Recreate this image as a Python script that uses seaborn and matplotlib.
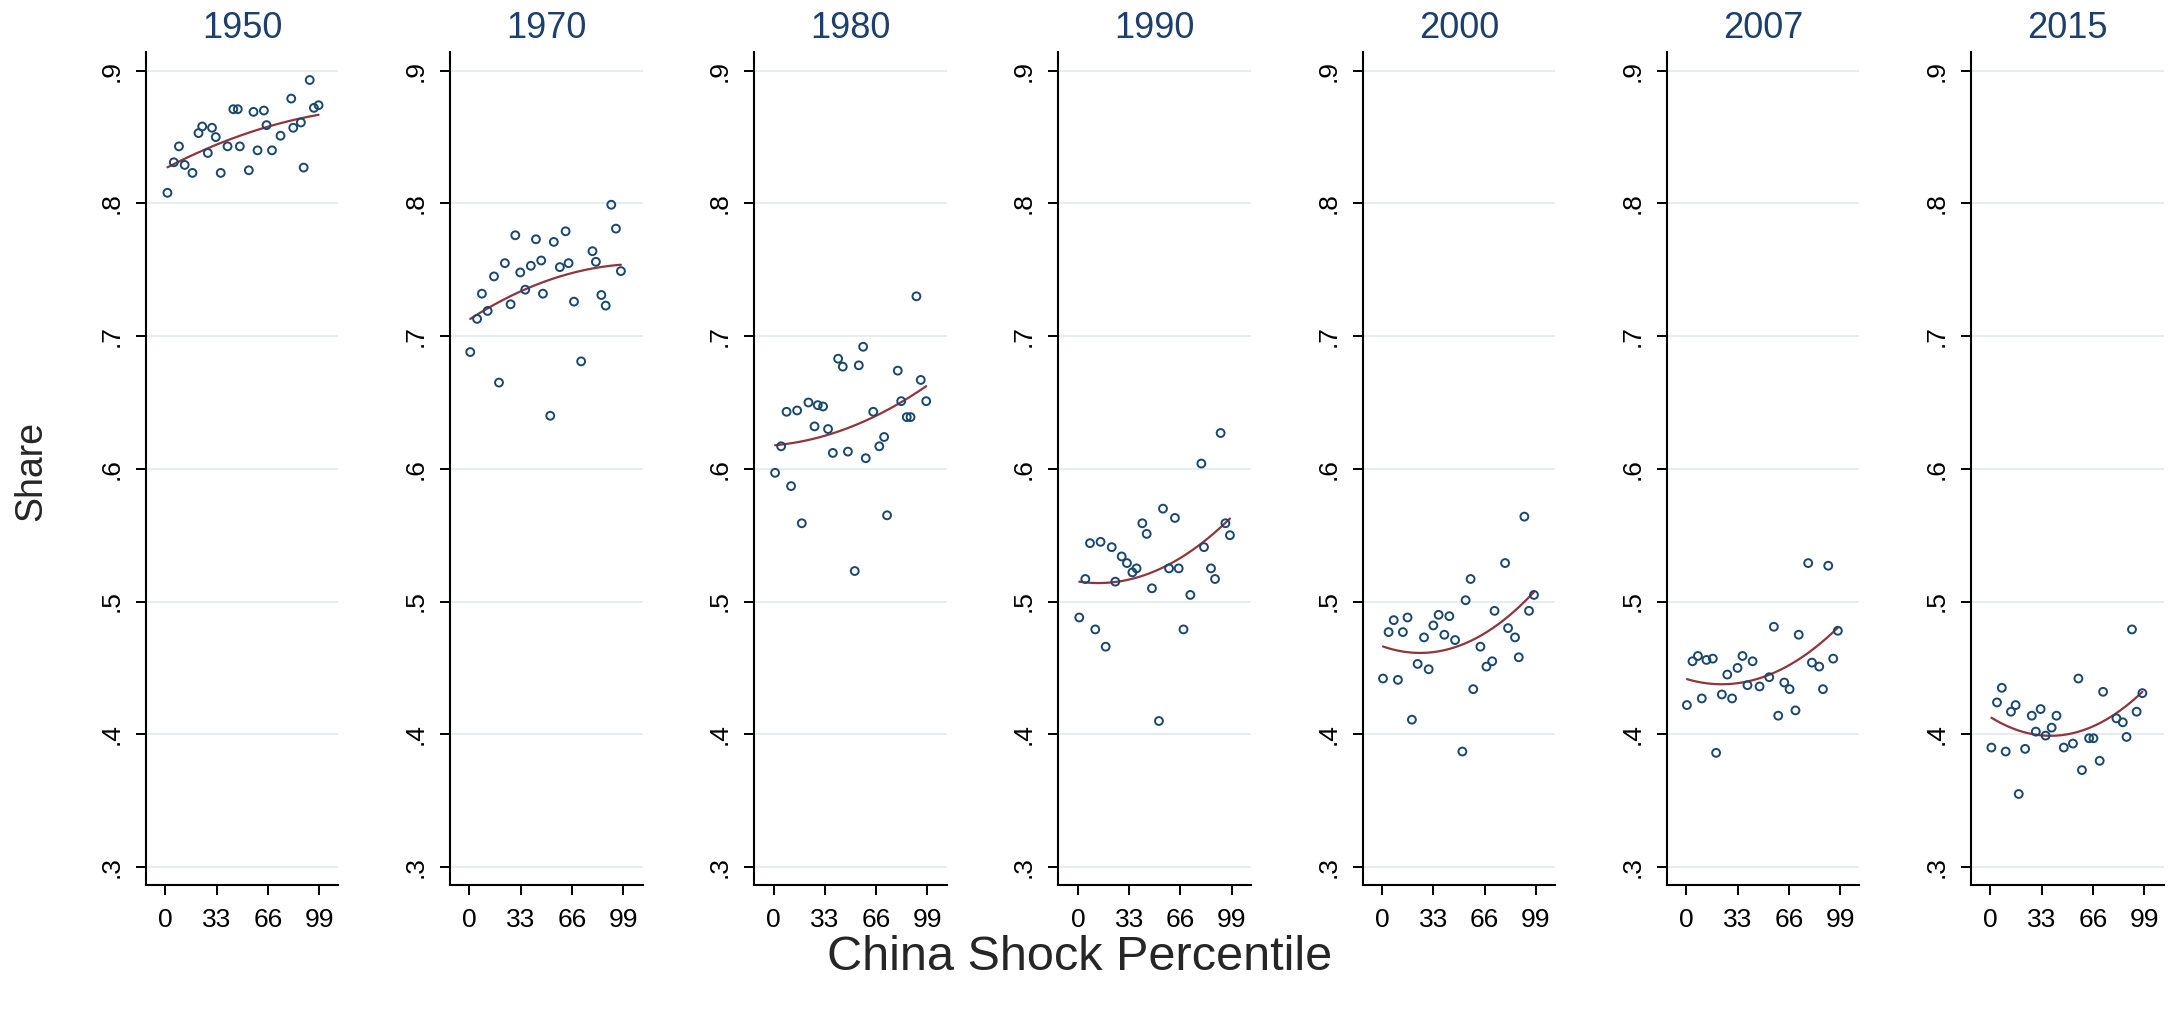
import numpy as np
import pandas as pd
import matplotlib
matplotlib.use("Agg")
import matplotlib.pyplot as plt
import seaborn as sns

# Panel years
years = ["1950", "1970", "1980", "1990", "2000", "2007", "2015"]

# Binned scatter points (percentile, share)
pct_1950 = [1.4, 5.5, 8.8, 12.5, 17.5, 21.4, 23.8, 27.4, 30.1, 32.5, 35.7, 40.1, 43.8, 46.7, 48.0,
            53.8, 56.8, 59.4, 63.5, 65.2, 68.7, 74.2, 81.1, 82.4, 87.3, 89.1, 93.0, 95.7, 98.7]
share_1950 = [0.808, 0.831, 0.843, 0.829, 0.823, 0.853, 0.858, 0.838, 0.857, 0.850, 0.823, 0.843, 0.871, 0.871, 0.843,
              0.825, 0.869, 0.840, 0.870, 0.859, 0.840, 0.851, 0.879, 0.857, 0.861, 0.827, 0.893, 0.872, 0.874]

pct_1970 = [0.5, 4.9, 8.0, 11.7, 15.8, 19.0, 22.8, 26.5, 29.5, 32.7, 35.9, 39.5, 42.8, 46.2, 47.3,
            52.0, 54.3, 58.2, 61.9, 63.8, 67.3, 71.9, 79.2, 81.4, 84.9, 87.7, 91.3, 94.3, 97.5]
share_1970 = [0.688, 0.713, 0.732, 0.719, 0.745, 0.665, 0.755, 0.724, 0.776, 0.748, 0.735, 0.753, 0.773, 0.757, 0.732,
              0.640, 0.771, 0.752, 0.779, 0.755, 0.726, 0.681, 0.764, 0.756, 0.731, 0.723, 0.799, 0.781, 0.749]

pct_1980 = [0.9, 4.8, 8.3, 11.2, 15.1, 18.1, 22.4, 26.3, 28.4, 31.8, 35.0, 38.1, 41.5, 44.5, 47.8,
            52.2, 54.8, 57.6, 59.3, 64.1, 68.0, 71.1, 73.0, 79.9, 82.1, 85.7, 88.1, 91.9, 94.7, 98.2]
share_1980 = [0.597, 0.617, 0.643, 0.587, 0.644, 0.559, 0.650, 0.632, 0.648, 0.647, 0.630, 0.612, 0.683, 0.677, 0.613,
              0.523, 0.678, 0.692, 0.608, 0.643, 0.617, 0.624, 0.565, 0.674, 0.651, 0.639, 0.639, 0.730, 0.667, 0.651]

pct_1990 = [0.9, 4.8, 7.8, 11.2, 14.6, 17.9, 21.8, 24.1, 28.2, 31.6, 35.1, 37.8, 41.5, 44.3, 47.7,
            52.2, 54.8, 58.7, 62.5, 64.9, 68.0, 72.4, 79.5, 81.2, 85.7, 88.3, 91.9, 95.0, 97.9]
share_1990 = [0.488, 0.517, 0.544, 0.479, 0.545, 0.466, 0.541, 0.515, 0.534, 0.529, 0.522, 0.525, 0.559, 0.551, 0.510,
              0.410, 0.570, 0.525, 0.563, 0.525, 0.479, 0.505, 0.604, 0.541, 0.525, 0.517, 0.627, 0.559, 0.550]

pct_2000 = [0.6, 4.2, 7.5, 10.2, 13.4, 16.4, 19.2, 22.9, 27.0, 30.0, 33.0, 36.4, 40.1, 43.3, 47.0,
            51.7, 53.8, 57.0, 58.7, 63.3, 67.2, 70.9, 72.4, 79.2, 81.1, 85.6, 88.0, 91.6, 94.6, 97.8]
share_2000 = [0.442, 0.477, 0.486, 0.441, 0.477, 0.488, 0.411, 0.453, 0.473, 0.449, 0.482, 0.490, 0.475, 0.489, 0.471,
              0.387, 0.501, 0.517, 0.434, 0.466, 0.451, 0.455, 0.493, 0.529, 0.480, 0.473, 0.458, 0.564, 0.493, 0.505]

pct_2007 = [0.4, 4.0, 7.5, 10.0, 13.0, 17.1, 19.2, 22.9, 26.4, 29.5, 33.0, 36.2, 39.4, 42.7, 47.2,
            53.4, 56.4, 59.2, 63.1, 66.5, 70.3, 72.4, 78.5, 80.9, 85.6, 88.0, 91.4, 94.6, 97.6]
share_2007 = [0.422, 0.455, 0.459, 0.427, 0.456, 0.457, 0.386, 0.430, 0.445, 0.427, 0.450, 0.459, 0.437, 0.455, 0.436,
              0.443, 0.481, 0.414, 0.439, 0.434, 0.418, 0.475, 0.529, 0.454, 0.451, 0.434, 0.527, 0.457, 0.478]

pct_2015 = [0.6, 4.2, 7.3, 9.8, 13.2, 16.2, 18.2, 22.3, 26.6, 29.2, 32.3, 35.5, 39.4, 42.5, 47.2,
            53.1, 56.6, 58.9, 63.5, 66.3, 70.3, 72.5, 81.1, 85.2, 87.6, 91.1, 94.1, 97.8]
share_2015 = [0.390, 0.424, 0.435, 0.387, 0.417, 0.422, 0.355, 0.389, 0.414, 0.402, 0.419, 0.399, 0.405, 0.414, 0.390,
              0.393, 0.442, 0.373, 0.397, 0.397, 0.380, 0.432, 0.412, 0.409, 0.398, 0.479, 0.417, 0.431]

xticks = [0, 33, 66, 99]
yticks = [0.3, 0.4, 0.5, 0.6, 0.7, 0.8, 0.9]
ytick_labels = [".3", ".4", ".5", ".6", ".7", ".8", ".9"]

# Stack into one long table
pcts = [pct_1950, pct_1970, pct_1980, pct_1990, pct_2000, pct_2007, pct_2015]
shares = [share_1950, share_1970, share_1980, share_1990, share_2000, share_2007, share_2015]
df = pd.concat([pd.DataFrame({"pct": p, "share": s, "year": yr}) for yr, p, s in zip(years, pcts, shares)])

navy = "#1a476f"
maroon = "#90353b"
title_col = "#1c3f6e"
grid_col = "#e4edf1"

sns.set_theme(style="ticks")
plt.rcParams["font.family"] = ["Liberation Sans", "DejaVu Sans"]

W, H = 2169, 1019
fig = plt.figure(figsize=(W / 100, H / 100), dpi=100)

for i, yr in enumerate(years):
    left = (145.7 + i * 304.2) / W
    ax = fig.add_axes([left, 1 - 885.3 / H, 192.6 / W, 833.3 / H])
    sub = df[df["year"] == yr]
    # scatter + quadratic fit (like Stata qfit)
    sns.regplot(data=sub, x="pct", y="share", order=2, ci=None, ax=ax, color=navy,
                scatter_kws=dict(s=32, facecolors="none", edgecolors=navy, linewidths=1.4, alpha=1, zorder=3),
                line_kws=dict(color=maroon, lw=1.6, zorder=2))
    ax.set_xlim(-12.6, 111.4)
    ax.set_ylim(0.2862, 0.9141)
    ax.set_xticks(xticks)
    ax.set_yticks(yticks)
    ax.set_yticklabels(ytick_labels, rotation=90, va="center")
    ax.tick_params(axis="both", direction="out", length=7.5, width=1.4, color="black",
                   labelsize=19, pad=8.5, labelcolor="black")
    ax.grid(axis="y", color=grid_col, lw=1.4)
    ax.set_axisbelow(True)
    sns.despine(ax=ax)
    for s in ["left", "bottom"]:
        ax.spines[s].set_color("black")
        ax.spines[s].set_linewidth(1.5)
    ax.set_title(yr, fontsize=26, color=title_col, pad=10)
    ax.set_xlabel("")
    ax.set_ylabel("")

fig.text(31 / W, 1 - 471 / H, "Share", rotation=90, ha="center", va="center", fontsize=27)
fig.text(1080 / W, 1 - 958 / H, "China Shock Percentile", ha="center", va="center", fontsize=35)

fig.savefig("out.png", dpi=100)
